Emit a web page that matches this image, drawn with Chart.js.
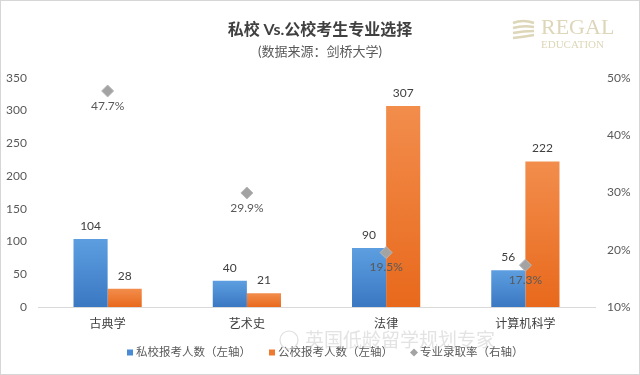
<!DOCTYPE html>
<html>
<head>
<meta charset="utf-8">
<script src="https://cdn.jsdelivr.net/npm/chart.js@4/dist/chart.umd.min.js"></script>
<style>
  html, body { margin: 0; padding: 0; background: #fff; }
  #wrap { width: 638px; height: 373px; border: 1px solid #d6d6d6; position: relative; }
</style>
</head>
<body>
<div id="wrap"><canvas id="pivotChart" width="638" height="373"></canvas></div>
<script>
// chart data
const categories = ['古典学', '艺术史', '法律', '计算机科学'];
const privateApplicants = [104, 40, 90, 56];
const publicApplicants = [28, 21, 307, 222];
const admitRate = [0.477, 0.299, 0.195, 0.173];
const leftTicks = [0, 50, 100, 150, 200, 250, 300, 350];
const rightTicks = [0.1, 0.2, 0.3, 0.4, 0.5];
const legendItems = [
  { text: '私校报考人数（左轴）', color: '#4a8bd3', shape: 'rect' },
  { text: '公校报考人数（左轴）', color: '#ee7a30', shape: 'rect' },
  { text: '专业录取率（右轴）', color: '#a3a3a3', shape: 'diamond' }
];

const FONT = "Lato, 'Noto Sans CJK SC', sans-serif";
Chart.defaults.font.family = FONT;
Chart.defaults.color = '#595959';

// vertical gradient per bar, lighter on top
const barFill = (top, bottom) => (ctx) => {
  const chart = ctx.chart;
  if (!chart.chartArea || ctx.raw == null) return bottom;
  const y = chart.scales.y;
  const y0 = y.getPixelForValue(ctx.raw);
  const y1 = y.getPixelForValue(0);
  const g = chart.ctx.createLinearGradient(0, y0, 0, y1);
  g.addColorStop(0, top);
  g.addColorStop(1, bottom);
  return g;
};

// value labels, legend, logo and watermark
const labelPlugin = {
  id: 'labels',
  afterDatasetsDraw(chart) {
    const ctx = chart.ctx;
    ctx.save();
    ctx.font = '12px ' + FONT;
    ctx.textAlign = 'center';
    chart.data.datasets.forEach((ds, i) => {
      const meta = chart.getDatasetMeta(i);
      meta.data.forEach((el, j) => {
        if (ds.type === 'line') {
          ctx.fillStyle = '#595959';
          ctx.textBaseline = 'top';
          ctx.fillText((ds.data[j] * 100).toFixed(1) + '%', el.x, el.y + 9);
        } else {
          ctx.fillStyle = '#404040';
          ctx.textBaseline = 'bottom';
          ctx.fillText(ds.data[j], el.x, el.y - 7);
        }
      });
    });
    ctx.restore();
  },
  afterDraw(chart) {
    const ctx = chart.ctx;
    ctx.save();
    // legend
    ctx.font = "11.5px " + FONT;
    ctx.textBaseline = 'middle';
    ctx.textAlign = 'left';
    let x = 126;
    const ly = 351.5;
    legendItems.forEach((it) => {
      ctx.fillStyle = it.color;
      if (it.shape === 'rect') {
        ctx.fillRect(x, ly - 3, 6, 6);
      } else {
        ctx.beginPath();
        ctx.moveTo(x + 3, ly - 4);
        ctx.lineTo(x + 7, ly);
        ctx.lineTo(x + 3, ly + 4);
        ctx.lineTo(x - 1, ly);
        ctx.closePath();
        ctx.fill();
      }
      ctx.fillStyle = '#595959';
      ctx.fillText(it.text, x + 9, ly);
      x += 9 + ctx.measureText(it.text).width + 18;
    });
    // logo
    ctx.strokeStyle = '#ddd6b9';
    ctx.lineWidth = 2.5;
    for (let k = 0; k < 4; k++) {
      ctx.beginPath();
      ctx.moveTo(512, 22 + k * 5);
      ctx.quadraticCurveTo(522, 18 + k * 5 + k, 533, 22 + k * 4);
      ctx.stroke();
    }
    ctx.fillStyle = '#ddd6b9';
    ctx.font = "22px 'Liberation Serif', serif";
    ctx.textBaseline = 'alphabetic';
    ctx.fillText('REGAL', 540, 33);
    ctx.font = "11px 'Liberation Serif', serif";
    ctx.fillText('EDUCATION', 540, 47);
    // watermark
    ctx.fillStyle = 'rgba(200,200,200,0.5)';
    ctx.font = "19px 'Noto Sans CJK SC', sans-serif";
    ctx.textBaseline = 'middle';
    ctx.fillText('英国低龄留学规划专家', 304, 339);
    ctx.strokeStyle = 'rgba(200,200,200,0.6)';
    ctx.lineWidth = 1.2;
    ctx.beginPath();
    ctx.arc(288, 339, 9, 0, Math.PI * 2);
    ctx.stroke();
    ctx.restore();
  }
};

const ctx = document.getElementById('pivotChart').getContext('2d');
new Chart(ctx, {
  data: {
    labels: categories,
    datasets: [
      {
        type: 'line',
        label: '专业录取率（右轴）',
        data: admitRate,
        yAxisID: 'y1',
        showLine: false,
        pointStyle: 'rectRot',
        pointRadius: 6,
        backgroundColor: '#a3a3a3',
        borderColor: '#b8b8b8',
        borderWidth: 1,
        order: 0
      },
      {
        type: 'bar',
        label: '私校报考人数（左轴）',
        data: privateApplicants,
        yAxisID: 'y',
        backgroundColor: barFill('#5d9ee0', '#3a78c2'),
        categoryPercentage: 0.49,
        barPercentage: 1,
        order: 1
      },
      {
        type: 'bar',
        label: '公校报考人数（左轴）',
        data: publicApplicants,
        yAxisID: 'y',
        backgroundColor: barFill('#f28d4c', '#e8691c'),
        categoryPercentage: 0.49,
        barPercentage: 1,
        order: 1
      }
    ]
  },
  options: {
    responsive: false,
    animation: false,
    layout: { padding: { left: 0, right: 0, top: 0, bottom: 43 } },
    plugins: {
      title: {
        display: true,
        text: '私校 Vs.公校考生专业选择',
        color: '#404040',
        font: { size: 16, weight: 'bold' },
        padding: { top: 19, bottom: 5 }
      },
      subtitle: {
        display: true,
        text: '(数据来源：剑桥大学)',
        color: '#595959',
        font: { size: 13 },
        padding: { bottom: 18 }
      },
      legend: { display: false },
      tooltip: { enabled: false }
    },
    scales: {
      x: {
        grid: { display: false, drawTicks: false },
        border: { color: '#d9d9d9' },
        ticks: { color: '#404040', font: { size: 12 }, padding: 10 },
        afterFit: (axis) => { axis.height = 24; }
      },
      y: {
        position: 'left',
        min: 0,
        max: 350,
        afterBuildTicks: (axis) => { axis.ticks = leftTicks.map(v => ({ value: v })); },
        grid: { display: false, drawTicks: false },
        border: { display: false },
        ticks: { color: '#595959', font: { size: 12 }, padding: 11 },
        afterFit: (axis) => { axis.width = 37; }
      },
      y1: {
        position: 'right',
        min: 0.1,
        max: 0.5,
        afterBuildTicks: (axis) => { axis.ticks = rightTicks.map(v => ({ value: v })); },
        grid: { display: false, drawTicks: false },
        border: { display: false },
        ticks: {
          color: '#595959',
          font: { size: 12 },
          padding: 12,
          callback: (v) => Math.round(v * 100) + '%'
        },
        afterFit: (axis) => { axis.width = 44; }
      }
    }
  },
  plugins: [labelPlugin]
});
</script>
</body>
</html>
